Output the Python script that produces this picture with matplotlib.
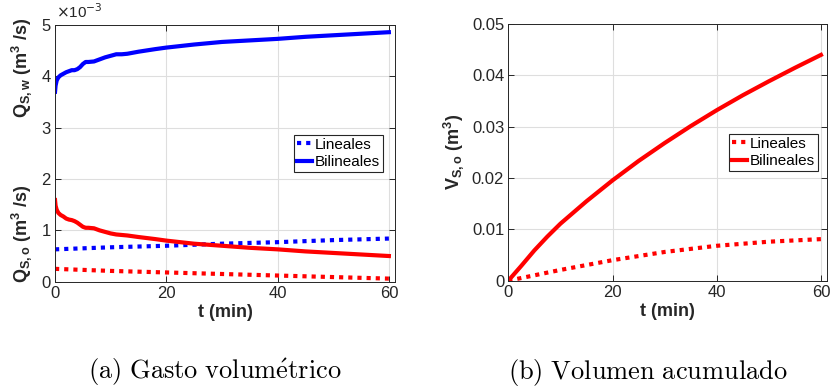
import numpy as np
import matplotlib
matplotlib.use("Agg")
import matplotlib.pyplot as plt

# data (left panel in units of 1e-3 m3/s)
t_bil = [0, 0.1, 0.3, 0.6, 1, 1.5, 2, 2.5, 3, 3.5, 4, 4.5, 5, 5.5, 6, 7, 8, 9, 10, 11, 12,
         13, 15, 18, 20, 25, 30, 35, 40, 45, 50, 55, 60]
qsw_bil = [3.70, 3.82, 3.92, 3.98, 4.02, 4.05, 4.08, 4.10, 4.12, 4.12, 4.14, 4.18, 4.24, 4.28,
           4.28, 4.29, 4.33, 4.37, 4.40, 4.43, 4.43, 4.44, 4.48, 4.53, 4.56, 4.62, 4.67, 4.70,
           4.73, 4.77, 4.80, 4.83, 4.86]
qso_bil = [1.59, 1.48, 1.40, 1.34, 1.30, 1.27, 1.23, 1.21, 1.20, 1.18, 1.15, 1.11, 1.07, 1.05,
           1.05, 1.04, 1.00, 0.97, 0.94, 0.92, 0.91, 0.90, 0.87, 0.83, 0.80, 0.74, 0.70, 0.66,
           0.63, 0.59, 0.56, 0.53, 0.50]

t_lin = [0, 10, 20, 30, 40, 50, 60]
qsw_lin = [0.63, 0.67, 0.70, 0.74, 0.77, 0.81, 0.84]
qso_lin = [0.25, 0.21, 0.18, 0.15, 0.12, 0.09, 0.06]

t_vol = [0, 2.5, 5, 7.5, 10, 15, 20, 25, 30, 35, 40, 45, 50, 55, 60]
vso_bil = [0, 0.0029, 0.0059, 0.0086, 0.0111, 0.01547, 0.01954, 0.02332, 0.02681, 0.03011,
           0.03321, 0.03612, 0.03884, 0.04146, 0.04398]
t_vlin = [0, 10, 20, 30, 40, 50, 60]
vso_lin = [0, 0.0021, 0.0040, 0.0056, 0.0068, 0.0076, 0.0081]

plt.rcParams['font.family'] = ['Liberation Sans', 'DejaVu Sans']
plt.rcParams['mathtext.fontset'] = 'custom'
plt.rcParams['mathtext.rm'] = 'Liberation Sans:bold'
plt.rcParams['mathtext.it'] = 'Liberation Sans:bold'
plt.rcParams['mathtext.bf'] = 'Liberation Sans:bold'

dk = '#262626'
dot = (0, (1, 1.2))

fig = plt.figure(figsize=(8.3, 3.92), dpi=100)
ax1 = fig.add_axes([0.0663, 0.2814, 0.4096, 0.6548])
ax2 = fig.add_axes([0.6124, 0.2839, 0.3836, 0.6549])

ax1.plot(t_lin, qsw_lin, color='#0000ff', lw=3, ls=dot, label='Lineales')
ax1.plot(t_bil, qsw_bil, color='#0000ff', lw=3, label='Bilineales')
ax1.plot(t_lin, qso_lin, color='#ff0000', lw=3, ls=dot)
ax1.plot(t_bil, qso_bil, color='#ff0000', lw=3)
ax1.set_ylim(0, 5)
ax1.set_yticks([0, 1, 2, 3, 4, 5])

ax2.plot(t_vlin, vso_lin, color='#ff0000', lw=3, ls=dot, label='Lineales')
ax2.plot(t_vol, vso_bil, color='#ff0000', lw=3, label='Bilineales')
ax2.set_ylim(0, 0.05)
ax2.set_yticks([0, 0.01, 0.02, 0.03, 0.04, 0.05])
ax2.set_yticklabels(['0', '0.01', '0.02', '0.03', '0.04', '0.05'])

for ax, lx in ((ax1, 0.965), (ax2, 0.973)):
    ax.set_xlim(0, 61.1)
    ax.set_xticks([0, 20, 40, 60])
    ax.grid(True, color='#dedede', lw=0.8)
    ax.set_axisbelow(True)
    ax.tick_params(direction='in', top=True, right=True, length=4, width=0.7,
                   labelsize=12, colors=dk, labelcolor=dk, pad=3)
    for s in ax.spines.values():
        s.set_color(dk)
        s.set_linewidth(0.7)
    ax.set_xlabel('t (min)', fontsize=13, fontweight='bold', color=dk, labelpad=2)
    leg = ax.legend(loc='center right', bbox_to_anchor=(lx, 0.5), fontsize=11,
                    fancybox=False, edgecolor=dk, framealpha=1, borderpad=0.2,
                    handlelength=1.0, handletextpad=0.2, labelspacing=0.2,
                    borderaxespad=0)
    leg.get_frame().set_linewidth(0.8)

ax2.set_ylabel(r'$V_{S,o}$ (m$^3$)', fontsize=13, fontweight='bold', color=dk, labelpad=4)

fig.text(0.026, 1 - 68 / 392, r'$Q_{S,w}$ (m$^3$ /s)', rotation=90, ha='center', va='center',
         fontsize=13, fontweight='bold', color=dk)
fig.text(0.026, 1 - 234 / 392, r'$Q_{S,o}$ (m$^3$ /s)', rotation=90, ha='center', va='center',
         fontsize=13, fontweight='bold', color=dk)
fig.text(56 / 830, 1 - 12 / 392, r'$\times$10$^{-3}$', ha='left', va='center', fontsize=11,
         color=dk, math_fontfamily='dejavusans')

fig.text(215 / 830, 1 - 372 / 392, r'$\mathrm{(a)\ Gasto\ volum\acute{e}trico}$', ha='center',
         va='center', fontsize=19, math_fontfamily='cm')
fig.text(648 / 830, 1 - 372 / 392, r'$\mathrm{(b)\ Volumen\ acumulado}$', ha='center',
         va='center', fontsize=19, math_fontfamily='cm')

fig.savefig('out.png', dpi=100)
